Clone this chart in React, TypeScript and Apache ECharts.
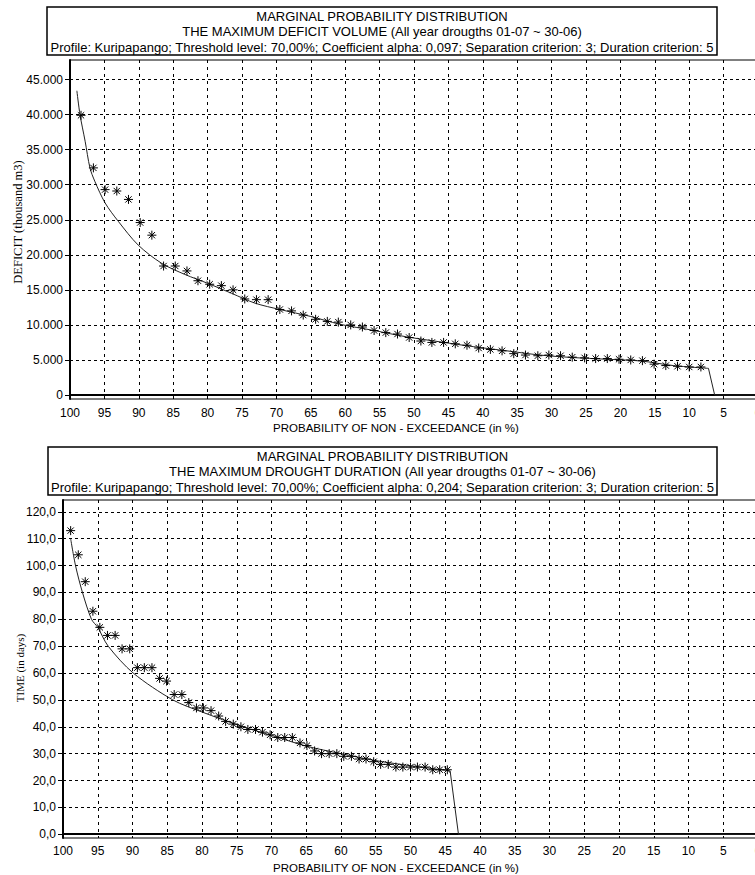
import React, { useEffect, useRef } from "react";
import * as echarts from "echarts";

// ---------- Chart 1: maximum deficit volume ----------
const deficitP = [98.4, 96.6, 94.9, 93.2, 91.5, 89.8, 88.1, 86.4, 84.7, 83.0, 81.4, 79.7, 78.0, 76.3, 74.6, 72.9, 71.2, 69.5, 67.8, 66.1, 64.3, 62.6, 61.0, 59.2, 57.5, 55.8, 54.1, 52.4, 50.7, 49.0, 47.4, 45.7, 44.0, 42.3, 40.6, 38.9, 37.2, 35.5, 33.8, 32.0, 30.4, 28.7, 27.0, 25.2, 23.6, 21.9, 20.2, 18.5, 16.8, 15.1, 13.4, 11.7, 10.0, 8.3];
const deficitV = [39900, 32400, 29300, 29100, 27900, 24600, 22800, 18400, 18400, 17700, 16300, 15800, 15600, 15000, 13700, 13600, 13600, 12200, 12000, 11400, 10800, 10500, 10400, 10000, 9700, 9200, 8900, 8700, 8200, 7700, 7500, 7500, 7300, 7100, 6700, 6500, 6300, 5900, 5700, 5600, 5700, 5600, 5400, 5300, 5200, 5200, 5100, 5000, 4900, 4400, 4200, 4100, 4000, 4000];
const deficitCurveP = [99.0, 98.55, 97.8, 97.1, 96.4, 94.9, 93.0, 90.1, 86.7, 83.3, 79.9, 76.5, 73.1, 69.5, 65.0, 60.8, 55.8, 51.1, 46.0, 41.4, 36.5, 31.7, 27.0, 22.0, 17.0, 12.3, 7.2];
const deficitCurveV = [43400, 40000, 36200, 32400, 30500, 27400, 24800, 21400, 18800, 17200, 15900, 14500, 13100, 12200, 11200, 10100, 9200, 8300, 7550, 6900, 6300, 5700, 5350, 5100, 4850, 4200, 3800];
const deficitDropP = [7.2, 6.3, 0];
const deficitDropV = [3800, 0, 0];
const deficitTicks = [0, 5000, 10000, 15000, 20000, 25000, 30000, 35000, 40000, 45000];
const deficitTickLabels = ["0", "5.000", "10.000", "15.000", "20.000", "25.000", "30.000", "35.000", "40.000", "45.000"];

// ---------- Chart 2: maximum drought duration ----------
const durationP = [98.9, 97.8, 96.8, 95.7, 94.7, 93.6, 92.5, 91.5, 90.4, 89.3, 88.3, 87.2, 86.1, 85.1, 84.0, 82.9, 81.9, 80.8, 79.8, 78.7, 77.6, 76.6, 75.5, 74.4, 73.4, 72.3, 71.3, 70.2, 69.1, 68.1, 67.0, 65.9, 64.9, 63.8, 62.8, 61.7, 60.6, 59.6, 58.5, 57.4, 56.4, 55.3, 54.3, 53.2, 52.1, 51.1, 50.0, 49.0, 47.9, 46.8, 45.8, 44.7];
const durationV = [113, 104, 94, 83, 77, 74, 74, 69, 69, 62, 62, 62, 58, 57, 52, 52, 49, 47, 47, 46, 44, 42, 41, 40, 39, 39, 38, 37, 36, 36, 36, 34, 33, 31, 30, 30, 30, 29, 29, 28, 28, 27, 26, 26, 25, 25, 25, 25, 25, 24, 24, 24];
const durationCurveP = [98.9, 98.2, 97.2, 95.9, 95.0, 93.5, 89.9, 84.2, 80.0, 74.1, 70.0, 65.0, 60.0, 55.0, 50.0, 44.3];
const durationCurveV = [110, 100, 90, 80, 77, 70, 60, 50, 45.5, 40, 36.8, 32.8, 30, 27.4, 25.5, 23.6];
const durationDropP = [44.3, 43.1, 0];
const durationDropV = [23.6, 0, 0];
const durationTicks = [0, 10, 20, 30, 40, 50, 60, 70, 80, 90, 100, 110, 120];
const durationTickLabels = ["0,0", "10,0", "20,0", "30,0", "40,0", "50,0", "60,0", "70,0", "80,0", "90,0", "100,0", "110,0", "120,0"];

const xTitle = "PROBABILITY OF NON - EXCEEDANCE (in %)";
const titles1 = [
  "MARGINAL PROBABILITY DISTRIBUTION",
  "THE MAXIMUM DEFICIT VOLUME (All year drougths 01-07 ~ 30-06)",
  "Profile: Kuripapango; Threshold level: 70,00%; Coefficient alpha: 0,097; Separation criterion: 3; Duration criterion: 5",
];
const titles2 = [
  "MARGINAL PROBABILITY DISTRIBUTION",
  "THE MAXIMUM DROUGHT DURATION (All year drougths 01-07 ~ 30-06)",
  "Profile: Kuripapango; Threshold level: 70,00%; Coefficient alpha: 0,204; Separation criterion: 3; Duration criterion: 5",
];

const SANS = "'Liberation Sans', Arial, Helvetica, sans-serif";
const SERIF = "'Liberation Serif', 'Times New Roman', serif";
const STAR = "path://M5,0L5,10M0,5L10,5M1.5,1.5L8.5,8.5M8.5,1.5L1.5,8.5";

const zip = (a: number[], b: number[]) => a.map((v, i) => [v, b[i]]);

function xAxisCfg(gridIndex: number, margin: number) {
  return {
    type: "value",
    gridIndex,
    min: 0,
    max: 100,
    interval: 5,
    inverse: true,
    axisLine: { show: true, lineStyle: { color: "#000", width: 2 } },
    axisTick: { show: false },
    axisLabel: { color: "#000", fontSize: 12, fontFamily: SANS, margin, showMinLabel: true, showMaxLabel: true },
    splitLine: { show: true, lineStyle: { color: "#000", type: [3, 4], width: 1 } },
  };
}

function yAxisCfg(gridIndex: number, min: number, max: number, ticks: number[], labels: string[]) {
  return {
    type: "value",
    gridIndex,
    min,
    max,
    axisLine: { show: true, onZero: false, lineStyle: { color: "#000", width: 2 } },
    axisTick: { show: true, inside: false, length: 5, customValues: ticks, lineStyle: { color: "#000" } },
    axisLabel: {
      color: "#000",
      fontSize: 12,
      fontFamily: SANS,
      margin: 7,
      customValues: ticks,
      formatter: (v: number) => {
        const i = ticks.indexOf(v);
        return i >= 0 ? labels[i] : "";
      },
    },
    splitLine: { show: true, lineStyle: { color: "#000", type: [3, 3], width: 1 } },
  };
}

const centered = { align: "center", verticalAlign: "middle", textAlign: "center", textVerticalAlign: "middle" };

function titleBox(x: number, y: number, w: number, h: number, lines: string[], lineYs: number[]) {
  const cx = x + w / 2;
  return [
    { type: "rect", shape: { x, y, width: w, height: h }, style: { fill: "#fff", stroke: "#000", lineWidth: 1.5 }, z: 10 },
    ...lines.map((t, i) => ({
      type: "text",
      x: cx,
      y: lineYs[i],
      z: 11,
      style: { text: t, fill: "#000", font: `13px ${SANS}`, ...centered },
    })),
  ];
}

export default function App() {
  const ref = useRef<HTMLDivElement>(null);
  useEffect(() => {
    if (!ref.current) return;
    const chart = echarts.init(ref.current, undefined, { renderer: "svg" });
    const lineCommon = { type: "line", showSymbol: false, symbol: "none", lineStyle: { color: "#222", width: 1 }, z: 3 };
    const scatterCommon = {
      type: "scatter",
      symbol: STAR,
      symbolSize: 9,
      itemStyle: { color: "#000", borderColor: "#000", borderWidth: 1, opacity: 1 },
      z: 4,
    };
    chart.setOption({
      animation: false,
      backgroundColor: "#fff",
      grid: [
        { left: 70, top: 60, width: 688, height: 339, show: true, borderColor: "#000", borderWidth: 1, backgroundColor: "transparent", outerBoundsMode: "none", containLabel: false },
        { left: 63, top: 500, width: 695, height: 338, show: true, borderColor: "#000", borderWidth: 1, backgroundColor: "transparent", outerBoundsMode: "none", containLabel: false },
      ],
      xAxis: [xAxisCfg(0, 8), xAxisCfg(1, 7)],
      yAxis: [
        yAxisCfg(0, -570, 47790, deficitTicks, deficitTickLabels),
        yAxisCfg(1, -1.4, 124.4, durationTicks, durationTickLabels),
      ],
      series: [
        { ...lineCommon, xAxisIndex: 0, yAxisIndex: 0, smooth: 0.3, data: zip(deficitCurveP, deficitCurveV) },
        { ...lineCommon, xAxisIndex: 0, yAxisIndex: 0, smooth: false, data: zip(deficitDropP, deficitDropV), z: 5 },
        { ...scatterCommon, xAxisIndex: 0, yAxisIndex: 0, data: zip(deficitP, deficitV) },
        { ...lineCommon, xAxisIndex: 1, yAxisIndex: 1, smooth: 0.3, data: zip(durationCurveP, durationCurveV) },
        { ...lineCommon, xAxisIndex: 1, yAxisIndex: 1, smooth: false, data: zip(durationDropP, durationDropV), z: 5 },
        { ...scatterCommon, xAxisIndex: 1, yAxisIndex: 1, data: zip(durationP, durationV) },
      ],
      graphic: [
        ...titleBox(47, 7, 670, 48, titles1, [16.5, 31.5, 47.5]),
        ...titleBox(48, 447, 669, 48, titles2, [456.5, 471.5, 487.5]),
        { type: "text", x: 396, y: 428, style: { text: xTitle, fill: "#000", font: `11.5px ${SANS}`, ...centered } },
        { type: "text", x: 396, y: 868, style: { text: xTitle, fill: "#000", font: `11.5px ${SANS}`, ...centered } },
        { type: "text", x: 18, y: 222, rotation: Math.PI / 2, style: { text: "DEFICIT (thousand m3)", fill: "#000", font: `12.5px ${SERIF}`, ...centered } },
        { type: "text", x: 20, y: 668, rotation: Math.PI / 2, style: { text: "TIME (in days)", fill: "#000", font: `11px ${SERIF}`, ...centered } },
      ],
    });
    return () => chart.dispose();
  }, []);
  return (
    <div style={{ position: "fixed", left: 0, top: 0, width: 755, height: 875, overflow: "hidden", background: "#fff" }}>
      <div ref={ref} style={{ width: 770, height: 875 }} />
    </div>
  );
}
